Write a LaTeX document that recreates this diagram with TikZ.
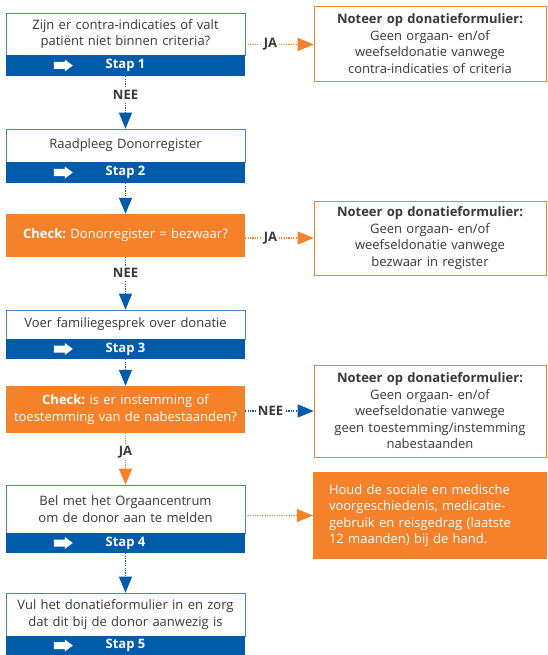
\documentclass[tikz,border=0pt]{standalone}
\usepackage{fontspec}
\setmainfont{Open Sans}
\usetikzlibrary{arrows.meta,calc}

\definecolor{stapblue}{HTML}{005BAA}
\definecolor{checkorange}{HTML}{F5822A}
\definecolor{textgray}{HTML}{383838}
\definecolor{edgeblue}{HTML}{4A86C8}

\tikzset{
  txt/.style={font=\fontsize{13}{16.5}\selectfont},
  stepbox/.style={txt, draw=edgeblue, line width=.6pt, fill=white, text=textgray,
    minimum width=239pt, text width=235pt, align=center, inner sep=0pt},
  band/.style={fill=stapblue, text=white, minimum width=239pt, inner sep=0pt,
    font=\fontsize{13}{16}\selectfont\bfseries},
  checkbox/.style={txt, fill=checkorange, text=white,
    minimum width=239pt, text width=235pt, align=center, inner sep=0pt},
  notebox/.style={txt, draw=checkorange, line width=.6pt, fill=white, text=textgray,
    minimum width=232pt, text width=228pt, align=center, inner sep=0pt},
  infobox/.style={txt, fill=checkorange, text=white,
    minimum width=234pt, text width=202pt, align=left, inner sep=0pt},
  lbl/.style={fill=white, text=textgray, inner sep=2pt,
    font=\fontsize{13}{14}\selectfont\bfseries},
  blueflow/.style={draw=stapblue, line width=1.2pt, dash pattern=on 1.2pt off 1.2pt,
    -{Triangle[length=16pt,width=13pt]}},
  orangeflow/.style={draw=checkorange, line width=1.2pt, dash pattern=on 1.2pt off 1.2pt,
    -{Triangle[length=16pt,width=13pt]}},
  stapicon/.pic={
    \fill[white] (0,-3.5) -- (11,-3.5) -- (11,-6) -- (19,0) -- (11,6) -- (11,3.5) -- (0,3.5) -- cycle;
  }
}

\begin{document}
\frenchspacing
\begin{tikzpicture}[x=1pt, y=-1pt]

    \useasboundingbox (0,0) rectangle (547,655);

    % steps
    \node[stepbox, minimum height=42pt] (s1) at (125.5,34) {Zijn er contra-indicaties of valt\\patiënt niet binnen criteria?};
    \node[stepbox, minimum height=33pt] (s2) at (125.5,145.5) {Raadpleeg Donorregister};
    \node[stepbox, minimum height=29pt] (s3) at (125.5,324.5) {Voer familiegesprek over donatie};
    \node[stepbox, minimum height=48pt] (s4) at (125.5,509) {Bel met het Orgaancentrum\\om de donor aan te melden};
    \node[stepbox, minimum height=43pt] (s5) at (125.5,614.5) {Vul het donatieformulier in en zorg\\dat dit bij de donor aanwezig is};

    \foreach \i/\y/\h in {1/65.5/21, 2/172.5/21, 3/349/20, 4/543/20, 5/645.5/19} {
        \node[band, minimum height=\h pt] (s\i b) at (125.5,\y) {Stap \i};
        \pic at ([xshift=48pt]s\i b.west) {stapicon};
    }

    % checks
    \node[checkbox, minimum height=43pt] (c1) at (125.5,235.5) {\textbf{Check:} Donorregister = bezwaar?};
    \node[checkbox, minimum height=47pt] (c2) at (125.5,409.5) {\textbf{Check:} is er instemming of\\toestemming van de nabestaanden?};

    % notes
    \node[notebox, minimum height=75pt] (r1) at (430,43.5) {\textbf{Noteer op donatieformulier:}\\Geen orgaan- en/of\\weefseldonatie vanwege\\contra-indicaties of criteria};
    \node[notebox, minimum height=74pt] (r2) at (430,238) {\textbf{Noteer op donatieformulier:}\\Geen orgaan- en/of\\weefseldonatie vanwege\\bezwaar in register};
    \node[notebox, minimum height=92pt] (r3) at (430,411) {\textbf{Noteer op donatieformulier:}\\Geen orgaan- en/of\\weefseldonatie vanwege\\geen toestemming/instemming\\nabestaanden};
    \node[infobox, minimum height=87pt] (r4) at (430,515.5) {Houd de sociale en medische\\voorgeschiedenis, medicatie-\\gebruik en reisgedrag (laatste\\12 maanden) bij de hand.};

    % down
    \draw[blueflow] (s1b.south) -- node[lbl, pos=.36] {NEE} (s2.north);
    \draw[blueflow] (s2b.south) -- (c1.north);
    \draw[blueflow] (c1.south) -- node[lbl, pos=.3] {NEE} (s3.north);
    \draw[blueflow] (s3b.south) -- (c2.north);
    \draw[orangeflow] (c2.south) -- node[lbl, pos=.37] {JA} (s4.north);
    \draw[blueflow] (s4b.south) -- (s5.north);

    % right
    \coordinate (s1e) at ($(s1.north east)!.5!(s1b.south east)$);
    \draw[orangeflow] (s1e) -- node[lbl, pos=.37] {JA} (s1e -| r1.west);
    \draw[orangeflow] (c1.east |- r2.west) -- node[lbl, pos=.37] {JA} (r2.west);
    \draw[blueflow] (c2.east |- r3.west) -- node[lbl, pos=.37] {NEE} (r3.west);
    \draw[orangeflow] (s4.east |- r4.west) -- (r4.west);

\end{tikzpicture}
\end{document}
